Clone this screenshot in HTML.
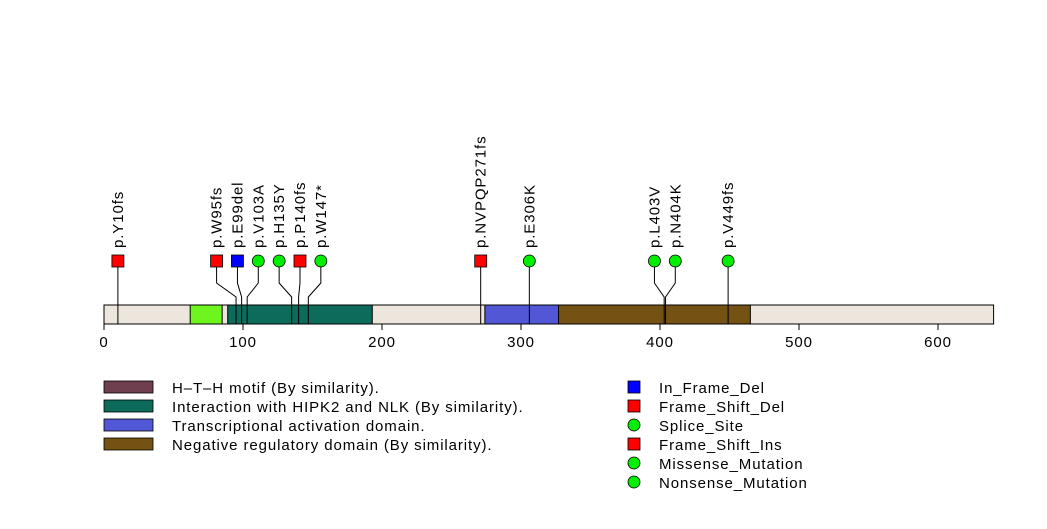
<!DOCTYPE html>
<html><head><meta charset="utf-8"><style>
body{margin:0;background:#fff}
svg text{font-family:"Liberation Sans",sans-serif;font-size:15px;letter-spacing:0.9px;fill:#000}
</style></head><body>
<svg id="c" width="1047" height="524" xmlns="http://www.w3.org/2000/svg"></svg>
<script>
const proteinLength = 640;
const domainStarts = [62, 89, 274, 327];
const domainEnds = [85, 193, 327, 465];
const domainColors = ['#6ef520', '#0d6b5b', '#5257d6', '#745214'];
const domainNames = ['hth-motif-domain', 'hipk2-nlk-interaction-domain', 'transcriptional-activation-domain', 'negative-regulatory-domain'];
const mutLabels = ['p.Y10fs','p.W95fs','p.E99del','p.V103A','p.H135Y','p.P140fs','p.W147*','p.NVPQP271fs','p.E306K','p.L403V','p.N404K','p.V449fs'];
const mutPositions = [10, 95, 99, 103, 135, 140, 147, 271, 306, 403, 404, 449];
const mutHeadPositions = [10, 81, 96, 111, 126, 141, 156, 271, 306, 396, 411, 449];
const mutTypes = ['sq-red','sq-red','sq-blue','circ','circ','sq-red','circ','sq-red','circ','circ','circ','circ'];
const ticks = [0, 100, 200, 300, 400, 500, 600];
const legendDomains = ['H\u2013T\u2013H motif (By similarity).','Interaction with HIPK2 and NLK (By similarity).','Transcriptional activation domain.','Negative regulatory domain (By similarity).'];
const legendDomainColors = ['#6f3f4f','#0d6b5b','#5257d6','#745214'];
const legendTypes = ['In_Frame_Del','Frame_Shift_Del','Splice_Site','Frame_Shift_Ins','Missense_Mutation','Nonsense_Mutation'];
const legendTypeMarkers = ['sq-blue','sq-red','circ','sq-red','circ','circ'];

const svg = document.getElementById('c');
const NS = 'http://www.w3.org/2000/svg';
const x = v => 104 + v * 1.39;
function mk(tag, attrs, parent){const e=document.createElementNS(NS,tag);for(const k in attrs)e.setAttribute(k,attrs[k]);(parent||svg).appendChild(e);return e;}
function marker(t, cx, cy, parent){
  if(t==='circ') return mk('circle',{cx:cx,cy:cy,r:6,fill:'#00ee00',stroke:'#000','stroke-width':0.8},parent);
  return mk('rect',{x:cx-6,y:cy-6,width:12,height:12,fill:t==='sq-blue'?'#0000ff':'#ff0000',stroke:'#000','stroke-width':0.8},parent);
}
const bb = mk('rect',{x:x(0),y:305,width:x(proteinLength)-x(0),height:19,fill:'#ede6dc',stroke:'#000','stroke-width':1});


domainStarts.forEach((s,i)=>{
  const r = mk('rect',{x:x(s),y:305,width:x(domainEnds[i])-x(s),height:19,fill:domainColors[i],stroke:'#000','stroke-width':1});
  
  
});
mk('line',{x1:x(0),y1:324,x2:x(600),y2:324,stroke:'#000'});
ticks.forEach(t=>{
  mk('line',{x1:x(t),y1:324,x2:x(t),y2:330,stroke:'#000'});
  const tx = mk('text',{x:x(t),y:347,'text-anchor':'middle'});
  tx.textContent = t;
  
  
});
mutPositions.forEach((p,i)=>{
  const g = mk('g',{});
  
  
  const hx = x(mutHeadPositions[i]), bx = x(p);
  mk('polyline',{points:`${hx},261 ${hx},283 ${bx},297 ${bx},324`,fill:'none',stroke:'#000','stroke-width':1},g);
  marker(mutTypes[i],hx,261,g);
  const t = mk('text',{transform:`translate(${hx+5},248) rotate(-90)`},g);
  t.textContent = mutLabels[i];
});
legendDomains.forEach((n,i)=>{
  const y = 381 + i*19;
  const r = mk('rect',{x:104,y:y,width:49,height:12,fill:legendDomainColors[i],stroke:'#000','stroke-width':0.8});
  
  
  const t = mk('text',{x:172,y:y+12});
  t.textContent = n;
  
  
});
legendTypes.forEach((n,i)=>{
  const y = 387 + i*19;
  const m = marker(legendTypeMarkers[i],634,y);
  
  
  const t = mk('text',{x:659,y:y+6});
  t.textContent = n;
  
  
});
</script>
</body></html>
